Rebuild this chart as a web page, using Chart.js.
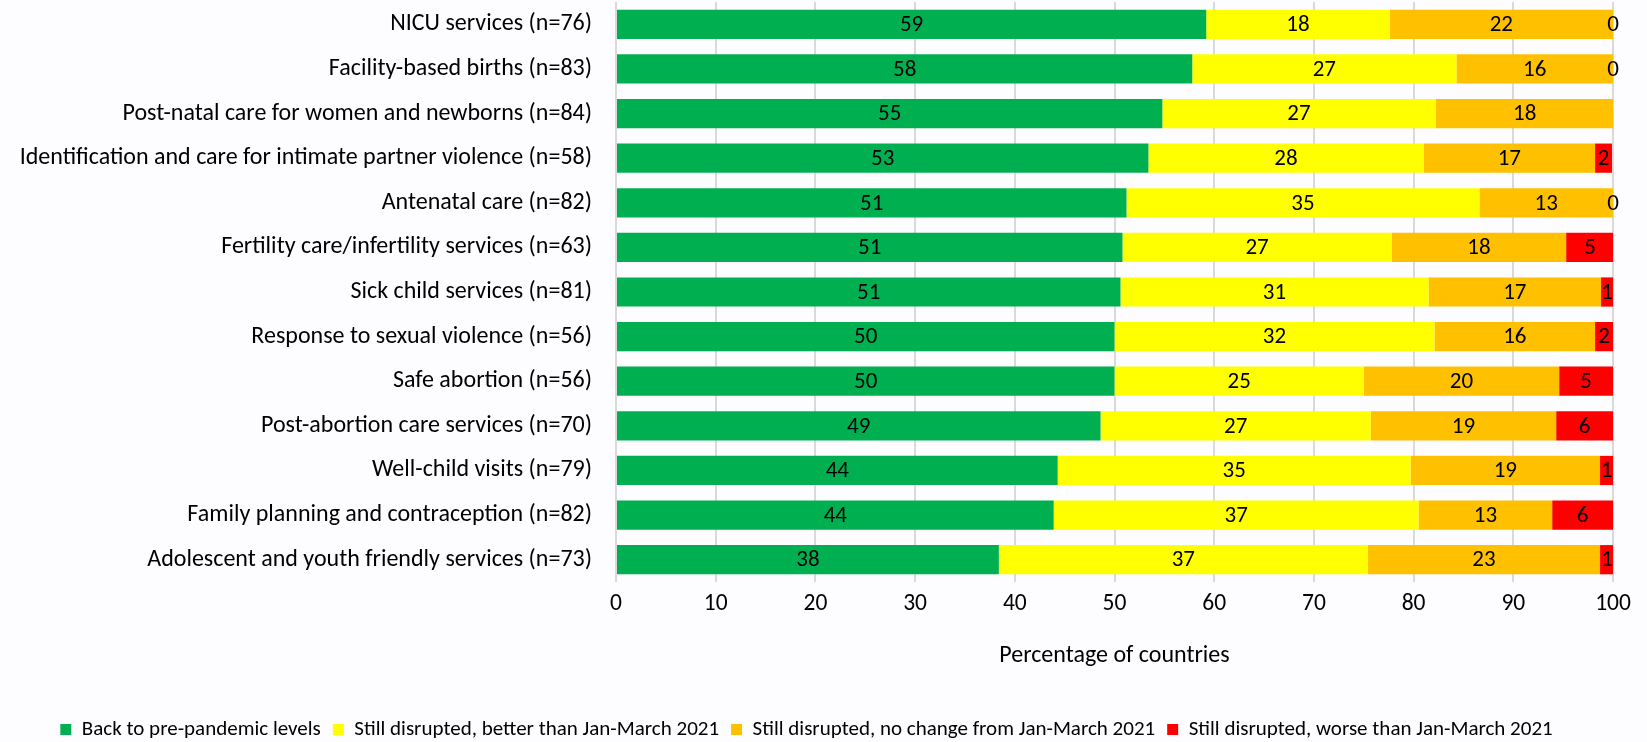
<!DOCTYPE html>
<html>
<head>
<meta charset="utf-8">
<script src="https://cdn.jsdelivr.net/npm/chart.js@4.4.0/dist/chart.umd.min.js"></script>
<style>
  html, body { margin: 0; padding: 0; background: #fdfcff; }
  #wrap { width: 1647px; height: 742px; position: relative; }
</style>
</head>
<body>
<div id="wrap"><canvas id="chart"></canvas></div>
<script>
const services = [
  'NICU services (n=76)',
  'Facility-based births (n=83)',
  'Post-natal care for women and newborns (n=84)',
  'Identification and care for intimate partner violence (n=58)',
  'Antenatal care (n=82)',
  'Fertility care/infertility services (n=63)',
  'Sick child services (n=81)',
  'Response to sexual violence (n=56)',
  'Safe abortion (n=56)',
  'Post-abortion care services (n=70)',
  'Well-child visits (n=79)',
  'Family planning and contraception (n=82)',
  'Adolescent and youth friendly services (n=73)'
];

const backToNormal = [59.2, 57.8, 54.8, 53.4, 51.2, 50.8, 50.6, 50.0, 50.0, 48.6, 44.3, 43.9, 38.4];
const betterThanQ1 = [18.4, 26.5, 27.4, 27.6, 35.4, 27.0, 30.9, 32.1, 25.0, 27.1, 35.4, 36.6, 37.0];
const noChange = [22.4, 15.7, 17.9, 17.2, 13.4, 17.5, 17.3, 16.1, 19.6, 18.6, 19.0, 13.4, 23.3];
const worseThanQ1 = [0, 0, null, 1.7, 0, 4.8, 1.2, 1.8, 5.4, 5.7, 1.3, 6.1, 1.4];

const seriesNames = [
  'Back to pre-pandemic levels',
  'Still disrupted, better than Jan-March 2021',
  'Still disrupted, no change from Jan-March 2021',
  'Still disrupted, worse than Jan-March 2021'
];
const xTicks = [0, 10, 20, 30, 40, 50, 60, 70, 80, 90, 100];

const FONT = 'Carlito, Calibri, Lato, sans-serif';

// draw the rounded values in the middle of each segment
const barLabels = {
  id: 'barLabels',
  afterDatasetsDraw(chart) {
    const ctx = chart.ctx;
    ctx.save();
    ctx.font = '23px ' + FONT;
    ctx.fillStyle = '#000';
    ctx.textAlign = 'center';
    ctx.textBaseline = 'middle';
    chart.data.datasets.forEach((ds, i) => {
      const meta = chart.getDatasetMeta(i);
      meta.data.forEach((bar, j) => {
        const v = ds.data[j];
        if (v === null || v === undefined) return;
        const cx = (bar.x + bar.base) / 2;
        ctx.fillText(String(Math.round(v)), cx, bar.y + 1);
      });
    });
    ctx.restore();
  }
};

const bgPlugin = {
  id: 'bg',
  beforeDraw(chart) {
    const ctx = chart.ctx;
    ctx.save();
    ctx.fillStyle = '#fdfcff';
    ctx.fillRect(0, 0, chart.width, chart.height);
    ctx.restore();
  }
};

const colors = ['#00b050', '#ffff00', '#ffc000', '#ff0000'];
const values = [backToNormal, betterThanQ1, noChange, worseThanQ1];

new Chart(document.getElementById('chart'), {
  type: 'bar',
  data: {
    labels: services,
    datasets: values.map((d, i) => ({
      label: seriesNames[i],
      data: d,
      backgroundColor: colors[i],
      borderWidth: 0,
      categoryPercentage: 1,
      barPercentage: 0.655
    }))
  },
  options: {
    indexAxis: 'y',
    responsive: true,
    maintainAspectRatio: false,
    animation: false,
    layout: { padding: { top: 2, right: 34, left: 0, bottom: -8 } },
    scales: {
      x: {
        stacked: true,
        min: 0,
        max: 100,
        afterBuildTicks(axis) { axis.ticks = xTicks.map(v => ({ value: v })); },
        grid: { color: '#d9d9d9', lineWidth: 2, drawTicks: false },
        border: { display: false },
        ticks: { color: '#000', font: { family: FONT, size: 23.5 }, padding: 8 },
        title: {
          display: true,
          text: 'Percentage of countries',
          color: '#000',
          font: { family: FONT, size: 24 },
          padding: { top: 15, bottom: 37 }
        }
      },
      y: {
        stacked: true,
        grid: { display: false },
        border: { display: false },
        ticks: { color: '#000', font: { family: FONT, size: 24 }, padding: 16 },
        afterFit(axis) {
          axis.width = 616;
          axis.paddingTop = 0;
          axis.paddingBottom = 0;
        }
      }
    },
    plugins: {
      legend: {
        position: 'bottom',
        labels: {
          boxWidth: 11,
          boxHeight: 11,
          color: '#000',
          padding: 12,
          font: { family: FONT, size: 21 }
        }
      },
      tooltip: { enabled: false }
    }
  },
  plugins: [bgPlugin, barLabels]
});
</script>
</body>
</html>
